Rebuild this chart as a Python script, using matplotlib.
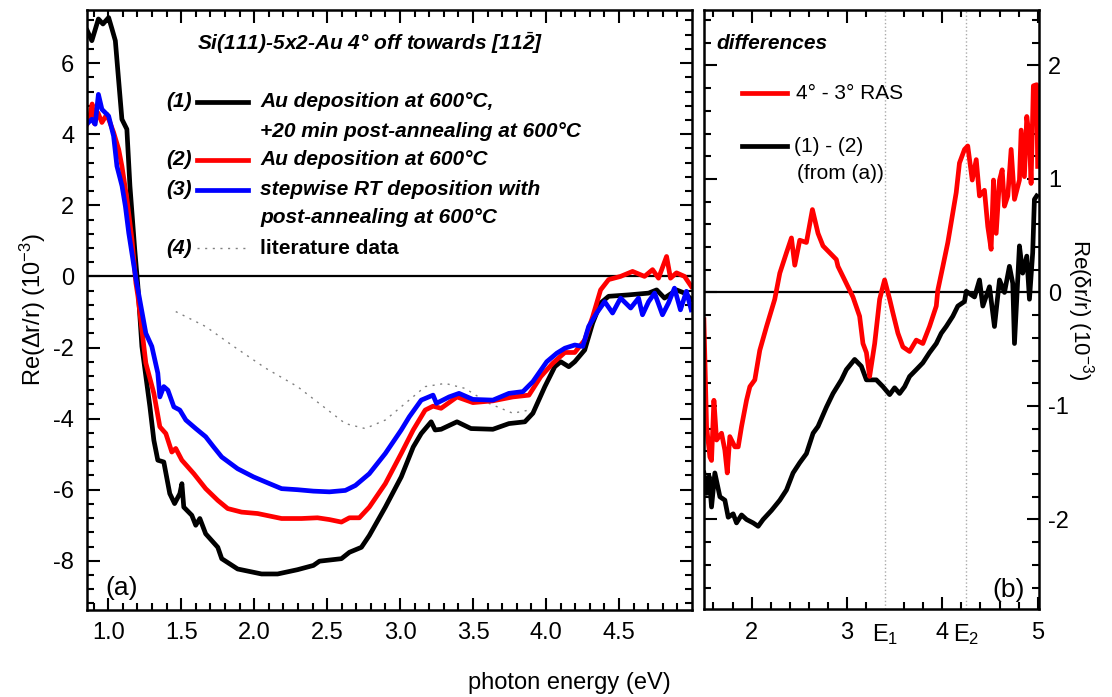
import matplotlib
matplotlib.use("Agg")
import matplotlib.pyplot as plt
from matplotlib.ticker import MultipleLocator

plt.rcParams['font.family'] = ['Liberation Sans', 'DejaVu Sans']
plt.rcParams['mathtext.fontset'] = 'custom'
plt.rcParams['mathtext.rm'] = 'Liberation Sans'
plt.rcParams['mathtext.it'] = 'Liberation Sans:italic'
plt.rcParams['mathtext.bf'] = 'Liberation Sans:bold:italic'
plt.rcParams['axes.unicode_minus'] = False

# ---- panel (a): RAS spectra ----
e1 = [0.857, 0.888, 0.933, 0.964, 1.003, 1.026, 1.049, 1.067, 1.094, 1.128, 1.149, 1.182, 1.204,
      1.231, 1.286, 1.313, 1.340, 1.381, 1.422, 1.455, 1.491, 1.505, 1.518, 1.573, 1.600, 1.628,
      1.668, 1.751, 1.778, 1.887, 2.051, 2.161, 2.297, 2.406, 2.448, 2.598, 2.653, 2.735, 2.789,
      2.899, 3.008, 3.090, 3.145, 3.213, 3.240, 3.281, 3.390, 3.486, 3.636, 3.746, 3.855, 3.910,
      3.992, 4.060, 4.101, 4.156, 4.197, 4.265, 4.320, 4.374, 4.429, 4.566, 4.703, 4.758, 4.812,
      4.894, 4.949, 4.995]
ras1 = [6.91, 6.63, 7.24, 7.10, 7.28, 6.96, 6.63, 5.74, 4.42, 4.14, 2.54, 0.75, -0.30,
        -1.97, -3.67, -4.61, -5.17, -5.22, -6.11, -6.39, -6.11, -5.83, -6.49, -6.72, -7.00, -6.81,
        -7.24, -7.62, -7.94, -8.23, -8.37, -8.37, -8.25, -8.13, -8.01, -7.94, -7.76, -7.62, -7.29,
        -6.49, -5.64, -4.80, -4.42, -4.09, -4.32, -4.30, -4.09, -4.28, -4.30, -4.14, -4.09, -3.85,
        -3.10, -2.54, -2.40, -2.54, -2.40, -2.07, -1.31, -0.75, -0.56, -0.52, -0.47, -0.38, -0.61,
        -0.38, -0.47, -0.64]

e2 = [0.857, 0.875, 0.890, 0.905, 0.930, 0.957, 0.991, 1.037, 1.072, 1.094, 1.129, 1.163, 1.190,
      1.204, 1.258, 1.313, 1.354, 1.395, 1.436, 1.463, 1.505, 1.587, 1.668, 1.751, 1.819, 1.914,
      2.024, 2.188, 2.325, 2.434, 2.516, 2.598, 2.653, 2.721, 2.789, 2.899, 3.008, 3.090, 3.172,
      3.226, 3.281, 3.390, 3.499, 3.636, 3.773, 3.883, 3.964, 4.047, 4.129, 4.197, 4.265, 4.320,
      4.374, 4.429, 4.511, 4.593, 4.675, 4.730, 4.771, 4.826, 4.853, 4.894, 4.949, 4.995]
ras2 = [4.30, 4.50, 4.85, 4.30, 4.60, 4.33, 4.56, 4.05, 3.57, 3.10, 2.16, 1.03, -0.19,
        -0.56, -2.44, -3.29, -4.23, -4.42, -4.94, -4.84, -5.17, -5.55, -5.97, -6.30, -6.53, -6.63,
        -6.67, -6.81, -6.81, -6.79, -6.84, -6.91, -6.79, -6.79, -6.49, -5.83, -4.98, -4.32, -3.76,
        -3.65, -3.71, -3.39, -3.55, -3.50, -3.39, -3.34, -2.82, -2.44, -2.14, -2.14, -1.79, -1.13,
        -0.38, -0.09, 0.00, 0.14, 0.00, 0.19, -0.05, 0.56, -0.05, 0.10, 0.00, -0.28]

e3 = [0.857, 0.888, 0.911, 0.933, 0.957, 1.003, 1.037, 1.060, 1.095, 1.118, 1.141, 1.191, 1.258,
      1.299, 1.340, 1.354, 1.381, 1.409, 1.450, 1.491, 1.532, 1.600, 1.668, 1.723, 1.778, 1.887,
      1.996, 2.106, 2.188, 2.297, 2.406, 2.516, 2.625, 2.694, 2.789, 2.899, 3.008, 3.063, 3.145,
      3.226, 3.249, 3.336, 3.404, 3.499, 3.636, 3.746, 3.842, 3.910, 4.005, 4.074, 4.129, 4.197,
      4.252, 4.292, 4.347, 4.402, 4.456, 4.511, 4.580, 4.634, 4.661, 4.703, 4.744, 4.798, 4.839,
      4.880, 4.921, 4.962, 4.995]
ras3 = [4.30, 4.42, 4.28, 5.12, 4.70, 4.51, 3.95, 3.10, 2.54, 1.97, 1.22, -0.09, -1.60,
        -1.97, -2.72, -3.39, -3.10, -3.20, -3.67, -3.76, -4.04, -4.28, -4.51, -4.80, -5.08, -5.41,
        -5.64, -5.83, -5.97, -6.00, -6.04, -6.06, -6.02, -5.88, -5.55, -4.98, -4.32, -3.95, -3.48,
        -3.34, -3.57, -3.39, -3.29, -3.46, -3.48, -3.29, -3.24, -2.96, -2.40, -2.16, -2.02, -1.93,
        -1.97, -1.41, -1.03, -0.71, -1.03, -0.61, -0.89, -0.61, -1.08, -0.71, -0.47, -1.08, -0.75,
        -0.33, -0.94, -0.42, -0.94]

e_lit = [1.463, 1.668, 1.860, 2.078, 2.297, 2.461, 2.625, 2.761, 2.899, 3.036, 3.172, 3.309,
         3.445, 3.608, 3.773, 3.883]
ras_lit = [-0.99, -1.41, -1.97, -2.58, -3.10, -3.62, -4.14, -4.28, -4.04, -3.57, -3.10, -3.01,
           -3.15, -3.57, -3.85, -3.76]

# ---- panel (b): differences ----
ed_red = [1.500, 1.528, 1.563, 1.580, 1.605, 1.633, 1.685, 1.720, 1.745, 1.772, 1.825, 1.860,
          1.895, 1.947, 1.982, 2.034, 2.086, 2.157, 2.243, 2.296, 2.366, 2.418, 2.453, 2.505,
          2.575, 2.638, 2.697, 2.749, 2.819, 2.889, 2.906, 2.976, 3.063, 3.133, 3.168, 3.204,
          3.238, 3.291, 3.343, 3.395, 3.448, 3.482, 3.535, 3.587, 3.657, 3.727, 3.796, 3.866,
          3.937, 3.953, 4.006, 4.058, 4.110, 4.146, 4.180, 4.233, 4.267, 4.314, 4.356, 4.390,
          4.442, 4.477, 4.512, 4.537, 4.565, 4.600, 4.628, 4.652, 4.687, 4.722, 4.757, 4.809,
          4.827, 4.861, 4.886, 4.914, 4.931, 4.955, 4.990, 5.000]
diff_red = [-0.24, -1.18, -1.45, -1.48, -0.95, -1.30, -1.24, -1.39, -1.59, -1.27, -1.36, -1.36,
            -1.18, -0.95, -0.83, -0.77, -0.51, -0.30, -0.06, 0.17, 0.35, 0.48, 0.24, 0.46,
            0.44, 0.73, 0.52, 0.41, 0.35, 0.29, 0.23, 0.11, -0.04, -0.21, -0.45, -0.53,
            -0.74, -0.45, -0.06, 0.11, -0.06, -0.18, -0.36, -0.48, -0.52, -0.42, -0.45, -0.30,
            -0.12, 0.02, 0.23, 0.44, 0.70, 0.88, 1.14, 1.26, 1.29, 0.99, 1.17, 0.85,
            0.90, 0.58, 0.38, 0.99, 0.52, 0.99, 1.08, 0.76, 0.85, 1.26, 0.82, 0.99,
            1.43, 1.02, 1.55, 1.35, 0.96, 1.82, 1.83, 1.11]

ed_blk = [1.500, 1.528, 1.555, 1.580, 1.615, 1.668, 1.720, 1.755, 1.807, 1.842, 1.895, 1.947,
          2.016, 2.069, 2.121, 2.209, 2.296, 2.366, 2.435, 2.505, 2.575, 2.645, 2.697, 2.785,
          2.854, 2.942, 2.994, 3.081, 3.151, 3.204, 3.256, 3.308, 3.378, 3.448, 3.500, 3.552,
          3.605, 3.657, 3.727, 3.796, 3.866, 3.937, 3.989, 4.041, 4.110, 4.163, 4.233, 4.251,
          4.338, 4.390, 4.425, 4.495, 4.547, 4.600, 4.652, 4.704, 4.739, 4.757, 4.809, 4.843,
          4.886, 4.914, 4.948, 4.966, 4.990]
diff_blk = [-1.59, -1.77, -1.62, -1.89, -1.59, -1.80, -1.83, -1.98, -1.95, -2.03, -1.96, -2.00,
            -2.03, -2.06, -2.00, -1.92, -1.83, -1.74, -1.59, -1.50, -1.42, -1.24, -1.18, -1.01,
            -0.89, -0.77, -0.68, -0.59, -0.65, -0.77, -0.77, -0.77, -0.83, -0.90, -0.84, -0.89,
            -0.83, -0.74, -0.68, -0.62, -0.53, -0.45, -0.36, -0.30, -0.21, -0.12, -0.08, 0.01,
            -0.04, 0.11, -0.12, 0.05, -0.30, 0.11, 0.00, 0.23, 0.08, -0.45, 0.41, 0.17,
            0.32, -0.06, 0.35, 0.82, 0.85]

E1, E2 = 3.40, 4.25

fig = plt.figure(figsize=(11.12, 6.97), dpi=100)
axa = fig.add_axes([0.078, 0.125, 0.544, 0.861])
axb = fig.add_axes([0.633, 0.126, 0.301, 0.860])

lw = 3.4
axa.axhline(0, color='black', lw=1.6)
axa.plot(e_lit, ras_lit, color='gray', lw=1.0, ls=(0, (1.5, 4)))
axa.plot(e1, ras1, color='black', lw=lw)
axa.plot(e2, ras2, color='#ff0000', lw=lw)
axa.plot(e3, ras3, color='#0000ff', lw=lw)
axa.set_xlim(0.853, 4.998)
axa.set_ylim(-9.38, 7.5)
axa.xaxis.set_major_locator(MultipleLocator(0.5))
axa.xaxis.set_minor_locator(MultipleLocator(0.1))
axa.yaxis.set_major_locator(MultipleLocator(2))
axa.yaxis.set_minor_locator(MultipleLocator(0.4))
axa.set_xticks([1.0, 1.5, 2.0, 2.5, 3.0, 3.5, 4.0, 4.5])
axa.set_xticklabels(['1.0', '1.5', '2.0', '2.5', '3.0', '3.5', '4.0', '4.5'])
axa.set_ylabel('Re(\u0394r/r) (10$^{-3}$)', fontsize=17, labelpad=4)

axb.axhline(0, color='black', lw=1.6)
for e in (E1, E2):
    axb.axvline(e, color='#aaaaaa', lw=1.0, ls=':')
axb.plot(ed_blk, diff_blk, color='black', lw=lw)
axb.plot(ed_red, diff_red, color='#ff0000', lw=lw)
axb.set_xlim(1.5, 5.01)
axb.set_ylim(-2.79, 2.49)
axb.set_xticks([2, 3, E1, 4, E2, 5])
axb.set_xticklabels(['2', '3', 'E$_1$', '4', 'E$_2$', '5'])
axb.xaxis.set_minor_locator(MultipleLocator(0.2))
axb.yaxis.set_major_locator(MultipleLocator(1))
axb.yaxis.set_minor_locator(MultipleLocator(0.2))
axb.yaxis.set_label_position('right')
axb.set_ylabel('Re(\u03b4r/r) (10$^{-3}$)', fontsize=16, rotation=270, labelpad=19)

for ax in (axa, axb):
    for s in ax.spines.values():
        s.set_linewidth(1.8)
    ax.tick_params(which='both', direction='in', top=True, right=True, left=True, bottom=True,
                   width=1.5, labelsize=17)
    ax.tick_params(which='major', length=9, pad=9)
    ax.tick_params(which='minor', length=5)
axb.tick_params(labelleft=False, labelright=True)
axb.tick_params(axis='y', which='major', pad=7)
for i in (2, 4):
    t = axb.xaxis.get_major_ticks()[i]
    t.tick1line.set_visible(False)
    t.tick2line.set_visible(False)

# legend of panel (a)
ta = axa.transAxes
fs = 15
axa.text(0.468, 0.945, 'Si(111)-5x2-Au 4\u00b0 off towards [11$\\bar{\\mathbf{2}}$]', transform=ta,
         fontsize=fs, fontweight='bold', style='italic', ha='center', va='center')
rows = [0.847, 0.750, 0.700, 0.603]
tags = ['(1)', '(2)', '(3)', '(4)']
cols = ['black', '#ff0000', '#0000ff', 'gray']
for r, tg, c in zip(rows, tags, cols):
    axa.text(0.174, r, tg, transform=ta, fontsize=fs, fontweight='bold', style='italic',
             ha='right', va='center')
    if c == 'gray':
        axa.plot([0.182, 0.267], [r, r], transform=ta, color=c, lw=1.0, ls=(0, (1.5, 4)))
    else:
        axa.plot([0.182, 0.267], [r, r], transform=ta, color=c, lw=lw)
labels_a = [(0.847, 'Au deposition at 600\u00b0C,'), (0.797, '+20 min post-annealing at 600\u00b0C'),
            (0.750, 'Au deposition at 600\u00b0C'), (0.700, 'stepwise RT deposition with'),
            (0.653, 'post-annealing at 600\u00b0C')]
for r, s in labels_a:
    axa.text(0.287, r, s, transform=ta, fontsize=fs, fontweight='bold', style='italic',
             ha='left', va='center')
axa.text(0.287, 0.603, 'literature data', transform=ta, fontsize=fs, fontweight='bold',
         ha='left', va='center')
axa.text(0.030, 0.037, '(a)', transform=ta, fontsize=19, ha='left', va='center')

# legend of panel (b)
tb = axb.transAxes
axb.text(0.038, 0.944, 'differences', transform=tb, fontsize=fs, fontweight='bold',
         style='italic', ha='left', va='center')
axb.plot([0.113, 0.247], [0.861, 0.861], transform=tb, color='#ff0000', lw=lw)
axb.text(0.275, 0.861, '4\u00b0 - 3\u00b0 RAS', transform=tb, fontsize=15, ha='left', va='center')
axb.plot([0.113, 0.247], [0.773, 0.773], transform=tb, color='black', lw=lw)
axb.text(0.268, 0.772, '(1) - (2)', transform=tb, fontsize=15, ha='left', va='center')
axb.text(0.277, 0.727, '(from (a))', transform=tb, fontsize=15, ha='left', va='center')
axb.text(0.958, 0.032, '(b)', transform=tb, fontsize=19, ha='right', va='center')

fig.text(0.512, 0.02, 'photon energy (eV)', fontsize=17, ha='center', va='center')

fig.savefig('out.png', dpi=100)
